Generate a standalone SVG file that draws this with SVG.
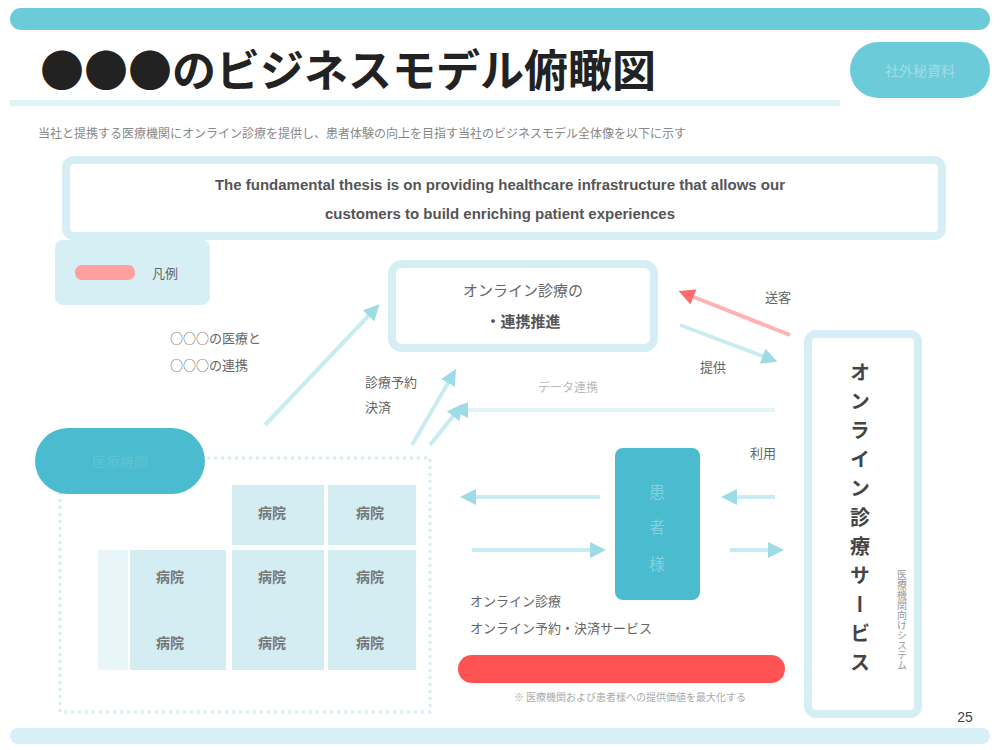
<svg xmlns="http://www.w3.org/2000/svg" width="1000" height="750" viewBox="0 0 1000 750">
<defs>
<style>
.jp{font-family:"Noto Sans CJK JP","Noto Sans",sans-serif}
.en{font-family:"Liberation Sans",Arial,sans-serif}
.frame{fill:#fff;stroke:#d4eef3;stroke-width:8}
.cell{fill:#d3edf3}
.cellt{font-family:"Noto Sans CJK JP",sans-serif;font-size:14px;font-weight:bold;fill:#777;text-anchor:middle}
.lab{font-family:"Noto Sans CJK JP",sans-serif;font-size:13px;fill:#666}
.ln{stroke:#c9ecf2;stroke-width:4;fill:none}
</style>
<marker id="ac" markerWidth="4" markerHeight="4" refX="2" refY="2" orient="auto" markerUnits="strokeWidth"><path d="M0,0 L4,2 L0,4 z" fill="#9ddbe6"/></marker>
<marker id="ar" markerWidth="4" markerHeight="4" refX="2" refY="2" orient="auto" markerUnits="strokeWidth"><path d="M0,0 L4,2 L0,4 z" fill="#ff6b6b"/></marker>
</defs>
<rect width="1000" height="750" fill="#fff"/>
<g id="header">
<rect x="10" y="8" width="980" height="22" rx="11" fill="#6ccbd9"/>
<rect x="10" y="100" width="830" height="6" fill="#def3f6"/>
<text x="40" y="87" class="jp" font-size="44" font-weight="bold" fill="#222">●●●のビジネスモデル俯瞰図</text>
<rect x="850" y="42" width="140" height="56" rx="28" fill="#6ccbd9"/>
<text x="920" y="76" class="jp" font-size="14" fill="#9fdde7" text-anchor="middle">社外秘資料</text>
<text x="38" y="138" class="jp" font-size="12" fill="#888">当社と提携する医療機関にオンライン診療を提供し、患者体験の向上を目指す当社のビジネスモデル全体像を以下に示す</text>
<rect x="10" y="728" width="980" height="16" rx="8" fill="#d6f0f5"/>
<text x="965" y="722" class="en" font-size="14" fill="#444" text-anchor="middle">25</text>
</g>
<g id="thesis">
<rect x="66" y="160" width="876" height="76" rx="8" class="frame"/>
<text x="500" y="190" class="en" font-size="15" font-weight="bold" fill="#555" text-anchor="middle">The fundamental thesis is on providing healthcare infrastructure that allows our</text>
<text x="500" y="219" class="en" font-size="15" font-weight="bold" fill="#555" text-anchor="middle">customers to build enriching patient experiences</text>
</g>
<g id="legend">
<rect x="55" y="240" width="155" height="65" rx="8" fill="#d6eff4"/>
<rect x="75" y="265" width="60" height="15" rx="7" fill="#ff9f9f"/>
<text x="165" y="278" class="jp" font-size="13" fill="#666" text-anchor="middle">凡例</text>
</g>
<g id="online">
<rect x="392" y="264" width="262" height="84" rx="10" class="frame"/>
<text x="523" y="296" class="jp" font-size="15" fill="#666" text-anchor="middle">オンライン診療の</text>
<text x="523" y="327" class="jp" font-size="15" font-weight="bold" fill="#555" text-anchor="middle">・連携推進</text>
</g>
<g id="platform">
<rect x="808" y="334" width="110" height="380" rx="8" class="frame"/>
<text x="860" y="362" class="jp" font-size="20" font-weight="bold" fill="#444" writing-mode="tb" letter-spacing="9">オンライン診療サービス</text>
<text x="902" y="570" class="jp" font-size="10" fill="#999" writing-mode="tb">医療機関向けシステム</text>
</g>
<g id="clinics">
<rect x="60" y="458" width="370" height="254" fill="none" stroke="#d6eef3" stroke-width="3" stroke-dasharray="3 4"/>
<rect x="98" y="550" width="30" height="120" class="cell" opacity="0.5"/>
<rect x="232" y="485" width="92" height="60" class="cell"/>
<rect x="328" y="485" width="88" height="60" class="cell"/>
<rect x="130" y="550" width="96" height="120" class="cell"/>
<rect x="232" y="550" width="92" height="120" class="cell"/>
<rect x="328" y="550" width="88" height="120" class="cell"/>
<text x="272" y="518" class="cellt">病院</text>
<text x="370" y="518" class="cellt">病院</text>
<text x="170" y="582" class="cellt">病院</text>
<text x="272" y="582" class="cellt">病院</text>
<text x="370" y="582" class="cellt">病院</text>
<text x="170" y="648" class="cellt">病院</text>
<text x="272" y="648" class="cellt">病院</text>
<text x="370" y="648" class="cellt">病院</text>
</g>
<g id="pill">
<rect x="35" y="428" width="170" height="66" rx="33" fill="#4bbccf"/>
<text x="120" y="467" class="jp" font-size="14" fill="#5cc4d5" text-anchor="middle">医療機関</text>
</g>
<g id="service">
<rect x="615" y="448" width="85" height="152" rx="8" fill="#4bbccf"/>
<text x="657" y="498" class="jp" font-size="16" fill="#7fd2df" text-anchor="middle">患</text>
<text x="657" y="533" class="jp" font-size="16" fill="#7fd2df" text-anchor="middle">者</text>
<text x="657" y="570" class="jp" font-size="16" fill="#7fd2df" text-anchor="middle">様</text>
</g>
<g id="notes">
<text x="170" y="343" class="lab">○○○の医療と</text>
<text x="170" y="370" class="lab">○○○の連携</text>
<text x="365" y="387" class="lab">診療予約</text>
<text x="365" y="412" class="lab">決済</text>
<text x="765" y="302" class="lab">送客</text>
<text x="700" y="372" class="lab">提供</text>
<text x="568" y="392" class="jp" font-size="12" fill="#bbb" text-anchor="middle">データ連携</text>
<text x="750" y="458" class="lab">利用</text>
<text x="470" y="606" class="lab">オンライン診療</text>
<text x="470" y="633" class="lab">オンライン予約・決済サービス</text>
<rect x="458" y="655" width="327" height="28" rx="14" fill="#ff5252"/>
<text x="630" y="701" class="jp" font-size="10" fill="#aaa" text-anchor="middle">※ 医療機関および患者様への提供価値を最大化する</text>
</g>
<g id="connectors">
<line x1="265" y1="425" x2="374" y2="310" class="ln" marker-end="url(#ac)"/>
<line x1="412" y1="445" x2="452" y2="376" class="ln" marker-end="url(#ac)"/>
<line x1="430" y1="445" x2="458" y2="410" class="ln" marker-end="url(#ac)"/>
<line x1="790" y1="335" x2="686" y2="294" stroke="#ffb3b3" stroke-width="4" marker-end="url(#ar)"/>
<line x1="680" y1="325" x2="770" y2="359" class="ln" marker-end="url(#ac)"/>
<line x1="775" y1="410" x2="460" y2="410" stroke="#e3f4f7" stroke-width="4" marker-end="url(#ac)"/>
<line x1="600" y1="497" x2="468" y2="497" class="ln" marker-end="url(#ac)"/>
<line x1="472" y1="550" x2="598" y2="550" class="ln" marker-end="url(#ac)"/>
<line x1="775" y1="497" x2="729" y2="497" class="ln" marker-end="url(#ac)"/>
<line x1="730" y1="550" x2="776" y2="550" class="ln" marker-end="url(#ac)"/>
</g>
</svg>
